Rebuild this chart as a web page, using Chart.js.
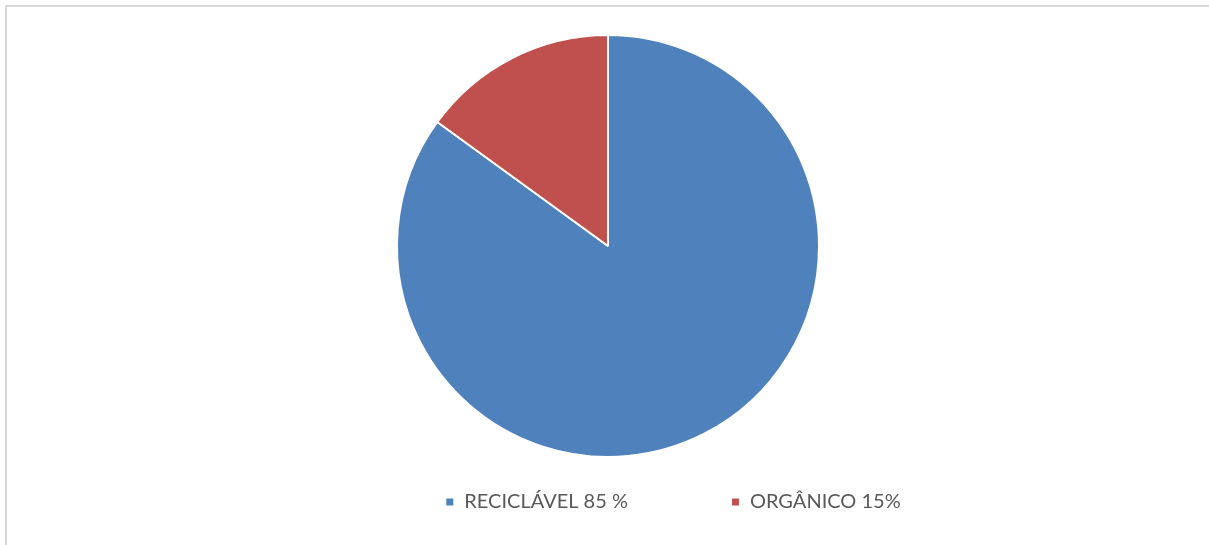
<!DOCTYPE html>
<html>
<head>
<meta charset="utf-8">
<script src="https://cdn.jsdelivr.net/npm/chart.js@4"></script>
<style>
  html, body { margin: 0; padding: 0; background: #fff; overflow: hidden; }
  #frame { position: absolute; left: 5px; top: 5px; width: 1220px; height: 560px;
           border: 2px solid #d9d9d9; box-sizing: border-box; }
  #wrap { position: absolute; left: 0; top: 0; width: 1209px; height: 545px; }
</style>
</head>
<body>
<div id="frame"></div>
<div id="wrap"><canvas id="pieCanvas"></canvas></div>
<script>
// pie data
var labels = ['RECICLÁVEL 85 %', 'ORGÂNICO 15%'];
var values = [85, 15];
var colors = ['#4f81bd', '#c0504d'];

var legendGap = 103; // space between legend entries
var legendShiftX = 65; // legend sits a bit right of the pie centre
var legendTextY = 502;
var legendFontSize = 20;

// move the legend box after layout, pie keeps its own area
// (legend clips to its own box, so stretch it to the canvas bottom)
var moveLegend = {
    id: 'moveLegend',
    afterLayout: function(chart) {
        var lg = chart.legend;
        lg.left += legendShiftX;
        lg.right += legendShiftX;
        lg.top = legendTextY - legendGap - legendFontSize / 2;
        lg.bottom = chart.height;
    }
};

var ctx = document.getElementById('pieCanvas').getContext('2d');
var chart = new Chart(ctx, {
    type: 'pie',
    data: {
        labels: labels,
        datasets: [{
            data: values,
            backgroundColor: colors,
            borderColor: '#ffffff',
            borderWidth: 2,
            clip: false
        }]
    },
    options: {
        responsive: true,
        maintainAspectRatio: false,
        animation: false,
        layout: {
            padding: { top: 34, left: 7, right: 0, bottom: 0 }
        },
        plugins: {
            tooltip: { enabled: false },
            legend: {
                position: 'bottom',
                maxHeight: 87,
                labels: {
                    boxWidth: 9,   // white 2px edge eats 1px each side -> 7px swatch
                    boxHeight: 9,
                    padding: legendGap,
                    color: '#595959',
                    font: { family: "Lato, 'Liberation Sans', sans-serif", size: legendFontSize }
                }
            }
        }
    },
    plugins: [moveLegend]
});
</script>
</body>
</html>
